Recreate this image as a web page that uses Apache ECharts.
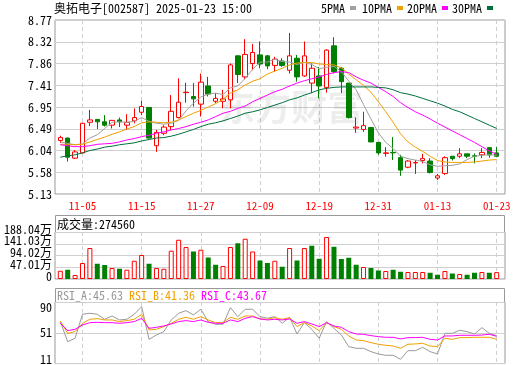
<!DOCTYPE html>
<html><head><meta charset="utf-8">
<script src="https://cdn.jsdelivr.net/npm/echarts@6/dist/echarts.min.js"></script>
<style>html,body{margin:0;padding:0;background:#fff}#c{width:520px;height:365px}</style>
</head><body><div id="c"></div>
<script>
const chartTitle = '奥拓电子[002587] 2025-01-23 15:00';
const dates = ['10-31','11-01','11-04','11-05','11-06','11-07','11-08','11-11','11-12','11-13','11-14','11-15','11-18','11-19','11-20','11-21','11-22','11-25','11-26','11-27','11-28','11-29','12-02','12-03','12-04','12-05','12-06','12-09','12-10','12-11','12-12','12-13','12-16','12-17','12-18','12-19','12-20','12-23','12-24','12-25','12-26','12-27','12-30','12-31','01-02','01-03','01-06','01-07','01-08','01-09','01-10','01-13','01-14','01-15','01-16','01-17','01-20','01-21','01-22','01-23'];
const labelDates = ['11-05','11-15','11-27','12-09','12-19','12-31','01-13','01-23'];
const opens  = [6.25,6.30,5.88,5.99,6.63,6.69,6.64,6.57,6.68,6.57,6.66,6.84,6.94,6.14,6.40,6.54,6.73,7.25,7.17,7.01,7.39,7.07,7.07,7.10,8.02,7.58,7.86,8.04,8.02,7.82,7.91,7.72,7.97,7.60,7.45,7.60,7.36,8.23,7.76,7.45,6.51,6.48,6.52,6.21,5.98,6.00,5.89,5.69,5.78,5.83,5.82,5.465,5.56,5.92,5.92,5.97,5.93,5.95,6.10,5.99];
const closes = [6.31,5.90,6.01,6.61,6.68,6.64,6.57,6.67,6.64,6.63,6.73,6.96,6.30,6.42,6.53,6.86,7.05,7.26,7.12,7.47,7.22,7.13,7.12,7.83,7.63,8.05,8.09,7.85,7.81,7.95,7.82,8.02,7.58,8.02,7.76,7.39,8.14,7.69,7.48,6.73,6.53,6.56,6.22,5.99,5.99,5.99,5.63,5.82,5.79,5.87,5.58,5.51,5.89,5.87,5.97,5.92,5.92,6.00,5.95,5.92];
const lows   = [6.20,5.81,5.86,5.98,6.55,6.49,6.54,6.50,6.53,6.47,6.61,6.78,6.29,6.01,6.36,6.47,6.71,7.04,6.96,6.75,7.17,7.03,6.92,6.92,7.45,7.53,7.72,7.76,7.74,7.69,7.79,7.65,7.48,7.58,7.24,7.13,7.25,7.65,7.24,6.71,6.41,6.43,6.21,5.95,5.91,5.84,5.51,5.67,5.55,5.77,5.56,5.42,5.53,5.83,5.88,5.88,5.77,5.88,5.89,5.90];
const highs  = [6.35,6.31,6.05,6.62,6.89,6.70,6.78,6.68,6.73,6.80,6.92,7.08,6.95,6.47,6.57,7.20,7.55,7.46,7.45,7.65,7.58,7.24,7.31,7.86,8.03,8.37,8.27,8.32,8.04,8.00,7.97,8.50,8.04,8.32,7.86,7.79,8.16,8.41,7.79,7.45,6.73,6.85,6.52,6.21,6.11,6.32,5.95,5.84,5.84,5.97,5.88,5.55,5.92,5.92,6.09,5.97,5.98,6.09,6.11,6.11];
const ma5  = [6.22,6.19,6.16,6.18,6.30,6.37,6.50,6.63,6.64,6.63,6.65,6.73,6.65,6.61,6.59,6.61,6.67,6.87,7.03,7.16,7.22,7.24,7.21,7.35,7.39,7.55,7.74,7.89,7.89,7.95,7.90,7.89,7.84,7.88,7.84,7.75,7.78,7.80,7.69,7.49,7.31,7.00,6.70,6.41,6.21,6.08,5.92,5.87,5.84,5.81,5.74,5.71,5.72,5.73,5.76,5.85,5.92,5.94,5.95,5.94];
const ma10 = [6.17,6.17,6.16,6.17,6.22,6.27,6.32,6.38,6.43,6.49,6.54,6.62,6.64,6.63,6.62,6.63,6.68,6.75,6.82,6.88,6.95,7.02,7.11,7.24,7.31,7.41,7.49,7.54,7.64,7.70,7.76,7.83,7.87,7.88,7.88,7.85,7.84,7.83,7.77,7.64,7.52,7.40,7.26,7.06,6.85,6.63,6.39,6.22,6.11,6.02,5.92,5.83,5.80,5.79,5.79,5.79,5.80,5.82,5.84,5.85];
const ma20 = [6.16,6.14,6.12,6.12,6.14,6.17,6.18,6.19,6.22,6.26,6.29,6.33,6.36,6.40,6.43,6.47,6.50,6.54,6.59,6.63,6.68,6.75,6.82,6.86,6.92,6.97,7.06,7.13,7.20,7.27,7.32,7.39,7.45,7.50,7.54,7.58,7.63,7.67,7.69,7.67,7.58,7.51,7.45,7.36,7.27,7.17,7.04,6.94,6.85,6.78,6.70,6.61,6.53,6.45,6.37,6.29,6.21,6.12,6.03,5.96];
const ma30 = [5.90,5.93,5.95,5.99,6.04,6.07,6.11,6.13,6.16,6.18,6.20,6.24,6.27,6.30,6.31,6.34,6.38,6.43,6.48,6.54,6.59,6.62,6.66,6.71,6.76,6.82,6.85,6.89,6.94,6.99,7.04,7.10,7.14,7.20,7.25,7.31,7.34,7.36,7.37,7.37,7.37,7.37,7.37,7.36,7.35,7.31,7.25,7.22,7.18,7.13,7.08,7.03,6.97,6.90,6.85,6.78,6.71,6.64,6.57,6.50];
const maNames = ['5PMA','10PMA','20PMA','30PMA'];
const volumes = [33,37,16,64,124,61,56,44,41,37,73,96,61,44,41,113,157,128,110,117,86,57,52,128,143,161,110,74,64,73,49,124,74,124,133,81,168,129,80,85,57,48,44,34,32,37,29,28,28,28,25,17,32,22,20,17,25,28,25,27.46];
const volUp = [1,0,1,1,1,0,0,1,0,1,1,1,0,1,1,1,1,1,0,1,0,0,1,1,0,1,1,0,0,1,0,1,0,1,0,0,1,0,0,0,0,1,0,0,1,0,0,1,1,1,0,0,1,0,1,0,0,1,0,1];
const volumeLast = 274560;
const rsiA = [68.3,37.9,43.0,79.4,80.9,79.4,71.8,76.8,70.8,71.8,79.4,91.0,41.4,48.0,53.1,70.8,80.9,84.9,78.4,87.0,68.3,64.2,64.2,89.5,75.8,87.0,87.0,76.0,73.3,75.8,65.7,74.8,49.5,66.7,56.6,43.0,68.3,58.1,48.0,30.3,27.8,27.8,22.7,19.2,17.2,17.2,11.1,24.2,24.2,29.3,22.7,19.2,50.5,50.5,55.1,53.1,49.5,59.1,50.5,47.0];
const rsiB = [69.3,50.5,53.1,65.7,71.8,72.8,70.8,70.8,68.3,69.8,71.8,79.4,55.6,56.6,60.7,65.7,71.8,74.8,71.8,75.8,70.8,66.7,67.2,74.8,71.8,76.8,76.8,72.5,71.8,74.3,71.8,74.3,60.7,66.7,61.7,54.6,66.7,60.7,56.6,46.5,40.4,39.4,36.4,33.9,32.3,31.3,27.8,33.9,34.4,35.4,31.3,30.3,43.0,41.4,44.0,44.0,44.5,44.5,44.5,41.4];
const rsiC = [65.7,54.6,56.6,63.2,66.7,67.2,66.7,66.7,65.7,66.7,68.3,73.3,58.1,59.6,61.7,64.7,68.3,69.8,68.3,70.8,67.2,65.7,65.7,70.8,68.3,73.3,75.8,72.3,70.8,71.8,70.8,72.3,65.7,68.3,64.7,60.7,66.7,61.7,59.6,53.1,49.5,49.0,47.0,45.5,44.5,44.5,42.0,44.0,44.0,44.5,41.4,40.4,46.5,46.5,47.5,47.5,47.5,48.0,49.0,46.0];
const rsiLast = ['45.63','41.36','43.67'];
const priceTicks = ['5.13','5.58','6.04','6.49','6.95','7.41','7.86','8.32','8.77'];
const volTicks = [0,47.01,94.02,141.03,188.04];
const rsiTicks = [11,51,90];

const F = "'Noto Sans Mono CJK SC','Noto Sans CJK SC','DejaVu Sans Mono',monospace";
const pMin = +priceTicks[0], pMax = +priceTicks[priceTicks.length-1];
const pInt = +((pMax - pMin) / (priceTicks.length - 1)).toFixed(4);
const vInt = volTicks[1], vMax = volTicks[volTicks.length-1];
const showLabel = (i) => labelDates.indexOf(dates[i]) >= 0;
const IN_LEFT = 60.3, IN_W = 436.4;
const GRID_C = '#999', SPLIT_C = '#d0d0d0';
const maColors = ['#a0a0a0','#f0a000','#ff00ff','#00703c'];
const rsiColors = ['#999999','#f0a000','#ff00ff'];

const hiddenX = (g) => ({gridIndex:g, type:'value', show:false, min:0, max:1});
const catX = (g, labels) => ({
  gridIndex:g, type:'category', data:dates, boundaryGap:false,
  axisLine:{show:false}, axisTick:{show:false},
  axisLabel: labels ? {show:true, interval:(i)=>showLabel(i), color:'#ff0000', fontSize:11, fontFamily:F, margin:6} : {show:false},
  splitLine:{show:true, interval:(i)=>showLabel(i), lineStyle:{color:SPLIT_C, type:[4,3], width:1}}
});
const lab = {color:'#000', fontSize:12, fontFamily:F, margin:3, showMinLabel:true, showMaxLabel:true, hideOverlap:false};
const volFmt = (v) => { const k = Math.round(v / vInt); return k === 0 ? '0' : volTicks[k].toFixed(2) + '万'; };
const volLabel = (vals) => Object.assign({}, lab, {verticalAlign:'bottom', lineHeight:6, customValues:vals, formatter:volFmt});

const option = {
  animation:false,
  backgroundColor:'#fff',
  title:{text:chartTitle, left:54, top:2, padding:0, textStyle:{fontFamily:F, fontSize:12, fontWeight:'normal', color:'#000'}},
  legend: maNames.map((n,k)=>({data:[n], left:[321,362,407,452][k], top:2, padding:0, itemWidth:6, itemHeight:4, align:'right', icon:'rect', selectedMode:false, textStyle:{fontFamily:F, fontSize:12, color:'#000'}})),
  grid:[
    {left:55, top:20, width:450, height:174, show:true, borderColor:GRID_C, borderWidth:1, backgroundColor:'transparent'},
    {left:IN_LEFT, top:20, width:IN_W, height:174},
    {left:55, top:232, width:450, height:47, show:true, borderColor:GRID_C, borderWidth:1, backgroundColor:'transparent'},
    {left:IN_LEFT, top:232, width:IN_W, height:47},
    {left:55, top:302, width:450, height:62, show:true, borderColor:GRID_C, borderWidth:1, backgroundColor:'transparent'},
    {left:IN_LEFT, top:302, width:IN_W, height:62}
  ],
  xAxis:[hiddenX(0), catX(1,true), hiddenX(2), catX(3,false), hiddenX(4), catX(5,false)],
  yAxis:[
    {gridIndex:0, type:'value', min:pMin, max:pMax, interval:pInt, axisLine:{show:false}, axisTick:{show:false},
      axisLabel:Object.assign({}, lab, {formatter:(v)=>priceTicks[Math.round((v-pMin)/pInt)]}),
      splitLine:{show:true, lineStyle:{color:SPLIT_C, width:1}}},
    {gridIndex:1, type:'value', min:pMin, max:pMax, show:false},
    {gridIndex:2, type:'value', min:0, max:vMax, interval:vInt, axisLine:{show:false}, axisTick:{show:false},
      axisLabel:volLabel([volTicks[0], volTicks[2], volTicks[4]]),
      splitLine:{show:true, lineStyle:{color:SPLIT_C, width:1}}},
    {gridIndex:3, type:'value', min:0, max:vMax, show:false},
    {gridIndex:4, type:'value', min:4, max:98, interval:47, axisLine:{show:false}, axisTick:{show:false},
      axisLabel:Object.assign({}, lab, {customValues:rsiTicks}),
      splitLine:{show:true, lineStyle:{color:SPLIT_C, width:1}}},
    {gridIndex:5, type:'value', min:4, max:98, show:false},
    {gridIndex:2, type:'value', min:0, max:vMax, interval:vInt, position:'left', axisLine:{show:false}, axisTick:{show:false},
      axisLabel:volLabel([volTicks[1], volTicks[3]]), splitLine:{show:false}}
  ],
  series:[
    {type:'candlestick', xAxisIndex:1, yAxisIndex:1, barWidth:5, clip:false,
      data: opens.map((o,i)=>[o, closes[i], lows[i], highs[i]]),
      itemStyle:{color:'#ffffff', color0:'#008000', borderColor:'#ff0000', borderColor0:'#008000', borderWidth:1}},
    ...[ma5,ma10,ma20,ma30].map((d,k)=>({name:maNames[k], type:'line', xAxisIndex:1, yAxisIndex:1, data:d, showSymbol:false, symbol:'none',
      color:maColors[k], lineStyle:{color:maColors[k], width:1}, itemStyle:{color:maColors[k]}})),
    {type:'bar', xAxisIndex:3, yAxisIndex:3, barWidth:5, clip:false,
      data: volumes.map((v,i)=>({value:v, itemStyle: volUp[i] ? {color:'#ffffff', borderColor:'#ff0000', borderWidth:1} : {color:'#008000', borderColor:'#008000', borderWidth:0}}))},
    ...[rsiA,rsiB,rsiC].map((d,k)=>({type:'line', xAxisIndex:5, yAxisIndex:5, data:d, showSymbol:false, symbol:'none',
      lineStyle:{color:rsiColors[k], width:1}, itemStyle:{color:rsiColors[k]}}))
  ],
  graphic:[
    {type:'text', x:291, y:107, z:1, silent:true, style:{text:'东方财富', fontSize:36, fontWeight:'bold', fontFamily:"'Noto Sans CJK SC'", fill:'rgba(0,0,0,0.07)', align:'center', verticalAlign:'middle'}},
    {type:'rect', shape:{x:55.5, y:215.5, width:449, height:17}, style:{fill:'#fff', stroke:GRID_C, lineWidth:1}},
    {type:'text', x:57, y:224, style:{text:'成交量:'+volumeLast, fontSize:12, fontFamily:F, fill:'#000', verticalAlign:'middle'}},
    {type:'rect', shape:{x:55.5, y:288.5, width:449, height:14}, style:{fill:'#fff', stroke:GRID_C, lineWidth:1}},
    {type:'text', x:57, y:295.5, style:{text:'{a|RSI_A:'+rsiLast[0]+'} {b|RSI_B:'+rsiLast[1]+'} {c|RSI_C:'+rsiLast[2]+'}', fontSize:12, fontFamily:F, verticalAlign:'middle',
      rich:{a:{fill:rsiColors[0], fontSize:12, fontFamily:F}, b:{fill:rsiColors[1], fontSize:12, fontFamily:F}, c:{fill:rsiColors[2], fontSize:12, fontFamily:F}}}}
  ]
};
const chart = echarts.init(document.getElementById('c'), null, {renderer:'canvas'});
chart.setOption(option);
</script>
</body></html>
